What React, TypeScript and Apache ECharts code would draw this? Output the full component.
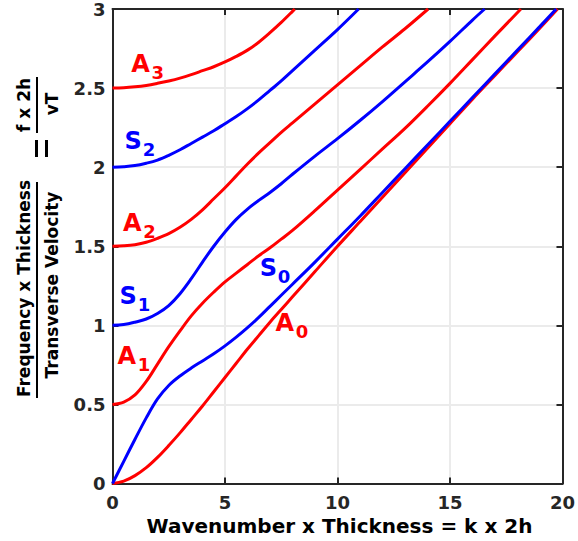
import React, { useEffect, useRef } from 'react';
import * as echarts from 'echarts';

// ---- data (wavenumber x thickness, frequency x thickness / vT) ----
const xTickValues = [0, 5, 10, 15, 20];
const yTickValues = [0, 0.5, 1, 1.5, 2, 2.5, 3];

const A0 = [[0, 0], [0.5, 0.015], [1, 0.05], [1.5, 0.1], [2, 0.165], [2.5, 0.24], [3, 0.32], [3.5, 0.405], [4, 0.49], [4.5, 0.58], [5, 0.67], [5.5, 0.76], [6, 0.85], [6.5, 0.935], [7, 1.02], [7.5, 1.1], [8, 1.18], [9, 1.34], [10, 1.5], [11, 1.655], [12, 1.81], [13, 1.965], [14, 2.12], [15, 2.275], [16, 2.43], [17, 2.58], [18, 2.73], [19, 2.88], [19.78, 3.0]];
const S0 = [[0, 0], [0.5, 0.14], [1, 0.28], [1.5, 0.415], [2, 0.535], [2.5, 0.62], [3, 0.68], [3.5, 0.73], [4, 0.775], [4.5, 0.82], [5, 0.87], [5.5, 0.925], [6, 0.985], [6.5, 1.05], [7, 1.12], [7.5, 1.19], [8, 1.26], [9, 1.4], [10, 1.545], [11, 1.69], [12, 1.84], [13, 1.99], [14, 2.14], [15, 2.29], [16, 2.44], [17, 2.59], [18, 2.74], [19, 2.89], [19.72, 3.0]];
const A1 = [[0, 0.5], [0.5, 0.515], [1, 0.56], [1.5, 0.645], [2, 0.755], [2.5, 0.865], [3, 0.965], [3.5, 1.06], [4, 1.14], [4.5, 1.21], [5, 1.275], [5.5, 1.33], [6, 1.385], [6.5, 1.44], [7, 1.49], [7.5, 1.545], [8, 1.6], [9, 1.725], [10, 1.855], [11, 1.985], [12, 2.115], [13, 2.245], [14, 2.385], [15, 2.53], [16, 2.68], [17, 2.83], [18.15, 3.0]];
const S1 = [[0, 1], [0.5, 1.005], [1, 1.02], [1.5, 1.04], [2, 1.075], [2.5, 1.125], [3, 1.2], [3.5, 1.295], [4, 1.4], [4.5, 1.5], [5, 1.59], [5.5, 1.67], [6, 1.735], [6.5, 1.79], [7, 1.84], [7.5, 1.895], [8, 1.955], [9, 2.07], [10, 2.18], [11, 2.295], [12, 2.415], [13, 2.54], [14, 2.665], [15, 2.795], [16, 2.93], [16.54, 3.0]];
const A2 = [[0, 1.5], [0.5, 1.503], [1, 1.51], [1.5, 1.525], [2, 1.55], [2.5, 1.58], [3, 1.62], [3.5, 1.67], [4, 1.73], [4.5, 1.8], [5, 1.87], [5.5, 1.945], [6, 2.02], [6.5, 2.09], [7, 2.155], [7.5, 2.22], [8, 2.28], [9, 2.4], [10, 2.52], [11, 2.64], [12, 2.76], [13, 2.875], [14.03, 3.0]];
const S2 = [[0, 2], [0.5, 2.003], [1, 2.01], [1.5, 2.025], [2, 2.045], [2.5, 2.075], [3, 2.11], [3.5, 2.15], [4, 2.19], [4.5, 2.23], [5, 2.275], [5.5, 2.32], [6, 2.37], [6.5, 2.425], [7, 2.485], [7.5, 2.545], [8, 2.61], [9, 2.74], [10, 2.87], [10.94, 3.0]];
const A3 = [[0, 2.5], [0.5, 2.502], [1, 2.508], [1.5, 2.517], [2, 2.53], [2.5, 2.545], [3, 2.563], [3.5, 2.585], [4, 2.61], [4.5, 2.635], [5, 2.665], [5.5, 2.7], [6, 2.74], [6.5, 2.79], [7, 2.85], [7.5, 2.915], [8, 2.985], [8.1, 3.0]];

const RED = '#ff0000';
const BLUE = '#0000ff';

const modeNames = ['A0', 'S0', 'A1', 'S1', 'A2', 'S2', 'A3'];
const modeData = [A0, S0, A1, S1, A2, S2, A3];
const modeColors = [RED, BLUE, RED, BLUE, RED, BLUE, RED];

// label: letter, subscript, centre of the main letter in data coords
const labelLetters = ['A', 'S', 'A', 'S', 'A', 'S', 'A'];
const labelSubs = ['0', '0', '1', '1', '2', '2', '3'];
const labelX = [7.66, 6.925, 0.64, 0.7, 0.884, 0.92, 1.25];
const labelY = [1.015, 1.3625, 0.805, 1.188, 1.65, 2.165, 2.653];

const xTitle = 'Wavenumber x Thickness = k x 2h';
const yTitleNum = 'Frequency x Thickness';
const yTitleDen = 'Transverse Velocity';
const yTitleNum2 = 'f x 2h';
const yTitleDen2 = 'vT';

const FONT = '"DejaVu Sans", "Liberation Sans", Arial, sans-serif';
const AX = '#262626';

export default function App() {
  const ref = useRef<HTMLDivElement>(null);
  useEffect(() => {
    document.body.style.margin = '0';
    if (!ref.current) return;
    const chart = echarts.init(ref.current, undefined, { renderer: 'svg' });
    const axisCommon = {
      axisLine: { show: true, onZero: false, lineStyle: { color: AX, width: 2 } },
      axisTick: { show: true, inside: true, length: 6, lineStyle: { color: AX, width: 2 } },
    };
    const labelStyle = { color: AX, fontWeight: 'bold', fontSize: 18, fontFamily: FONT };
    chart.setOption({
      animation: false,
      grid: { left: 112.5, right: 13, top: 7.5, bottom: 57.5 },
      xAxis: [
        {
          type: 'value', min: xTickValues[0], max: xTickValues[xTickValues.length - 1], interval: 5, position: 'bottom',
          ...axisCommon,
          axisLabel: { ...labelStyle, margin: 10 },
          splitLine: { show: true, lineStyle: { color: '#ebebeb', width: 2 } },
        },
        {
          type: 'value', min: 0, max: 20, interval: 5, position: 'top',
          ...axisCommon,
          axisLabel: { show: false },
          splitLine: { show: false },
        },
      ],
      yAxis: [
        {
          type: 'value', min: yTickValues[0], max: yTickValues[yTickValues.length - 1], interval: 0.5, position: 'left',
          ...axisCommon,
          axisLabel: { ...labelStyle, margin: 7 },
          splitLine: { show: true, lineStyle: { color: '#ebebeb', width: 2 } },
        },
        {
          type: 'value', min: 0, max: 3, interval: 0.5, position: 'right',
          ...axisCommon,
          axisLabel: { show: false },
          splitLine: { show: false },
        },
      ],
      series: modeNames.map((n, i) => ({
        name: n,
        type: 'line',
        data: modeData[i],
        smooth: 0.35,
        symbol: 'none',
        lineStyle: { color: modeColors[i], width: 3 },
        z: 3,
      })),
    });

    const g: any[] = [];
    labelLetters.forEach((l, i) => {
      const p = chart.convertToPixel({ xAxisIndex: 0, yAxisIndex: 0 }, [labelX[i], labelY[i]]) as number[];
      const half = l === 'A' ? 9.3 : 8.0;
      g.push({
        type: 'text', x: p[0], y: p[1], z: 10,
        style: { text: l, fill: modeColors[i], fontSize: 24, fontWeight: 'bold', fontFamily: FONT, align: 'center', verticalAlign: 'middle' },
      });
      g.push({
        type: 'text', x: p[0] + half + 1.5, y: p[1] + 8.5, z: 10,
        style: { text: labelSubs[i], fill: modeColors[i], fontSize: 18, fontWeight: 'bold', fontFamily: FONT, align: 'left', verticalAlign: 'middle' },
      });
    });
    const titleStyle = { fill: '#000', fontWeight: 'bold', fontFamily: FONT, align: 'center', verticalAlign: 'middle' };
    g.push({ type: 'text', x: 339.5, y: 525.5, style: { ...titleStyle, text: xTitle, fontSize: 20 } });
    g.push({ type: 'text', x: 24, y: 288.5, rotation: Math.PI / 2, style: { ...titleStyle, text: yTitleNum, fontSize: 17 } });
    g.push({ type: 'text', x: 52, y: 285, rotation: Math.PI / 2, style: { ...titleStyle, text: yTitleDen, fontSize: 17 } });
    g.push({ type: 'line', shape: { x1: 37, y1: 182, x2: 37, y2: 398 }, style: { stroke: '#000', lineWidth: 2 } });
    g.push({ type: 'line', shape: { x1: 36.5, y1: 140, x2: 36.5, y2: 157 }, style: { stroke: '#000', lineWidth: 3 } });
    g.push({ type: 'line', shape: { x1: 46.5, y1: 140, x2: 46.5, y2: 157 }, style: { stroke: '#000', lineWidth: 3 } });
    g.push({ type: 'text', x: 24, y: 105, rotation: Math.PI / 2, style: { ...titleStyle, text: yTitleNum2, fontSize: 17 } });
    g.push({ type: 'line', shape: { x1: 37, y1: 77, x2: 37, y2: 133 }, style: { stroke: '#000', lineWidth: 2 } });
    g.push({ type: 'text', x: 52, y: 104, rotation: Math.PI / 2, style: { ...titleStyle, text: yTitleDen2, fontSize: 17 } });
    chart.setOption({ graphic: g });

    return () => chart.dispose();
  }, []);
  return <div ref={ref} style={{ width: 578, height: 541 }} />;
}
